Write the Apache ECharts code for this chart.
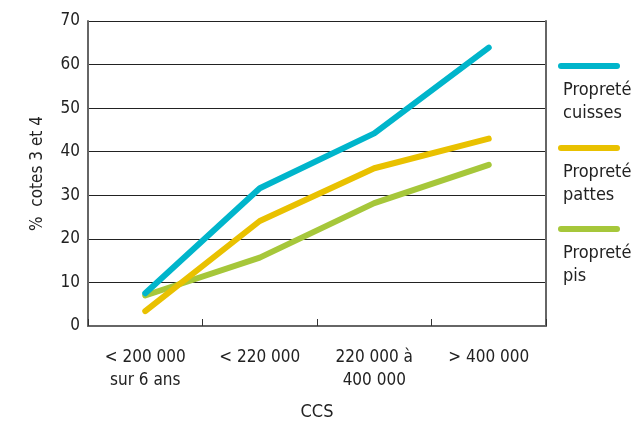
<!DOCTYPE html>
<html>
<head>
<meta charset="utf-8">
<script src="https://cdn.jsdelivr.net/npm/echarts@6/dist/echarts.min.js"></script>
<style>
  html, body { margin: 0; padding: 0; background: #fff; }
  #chart { width: 637px; height: 423px; }
</style>
</head>
<body>
<div id="chart"></div>
<script>
// CCS classes on the x axis
const categories = ['< 200 000\nsur 6 ans', '< 220 000', '220 000 à\n400 000', '> 400 000'];
// % of cows scored 3 or 4 for each cleanliness criterion
const cuisses = [7.5, 31.6, 44.2, 63.9];
const pattes = [3.4, 24.1, 36.2, 43.0];
const pis = [7.0, 15.7, 28.2, 37.0];
const seriesNames = ['Propreté cuisses', 'Propreté pattes', 'Propreté pis'];
const legendLabels = ['Propreté\ncuisses', 'Propreté\npattes', 'Propreté\npis'];
const colors = ['#00b5cb', '#e9c100', '#a6c73a'];
const yTicks = { min: 0, max: 70, interval: 10 };

const FONT = '"DejaVu Sans Condensed", "DejaVu Sans", sans-serif';
const chart = echarts.init(document.getElementById('chart'), null, { renderer: 'canvas' });

const values = [cuisses, pattes, pis];
// vertical centre of each legend swatch
const legendCentres = [66, 148, 229];
// swatch with fully rounded ends, 62 x 6
const pill = 'path://M3,0 L59,0 A3,3 0 0 1 59,6 L3,6 A3,3 0 0 1 3,0 Z';

const option = {
  animation: false,
  textStyle: { fontFamily: FONT, color: '#222' },
  grid: { left: 88, right: 91, top: 21, bottom: 97, outerBoundsMode: 'none', containLabel: false },
  xAxis: {
    type: 'category',
    data: categories,
    boundaryGap: true,
    name: 'CCS',
    nameLocation: 'middle',
    nameGap: 77,
    nameTextStyle: { fontFamily: FONT, fontSize: 18, color: '#222' },
    axisLine: { lineStyle: { color: '#666', width: 2 } },
    axisTick: { show: true, inside: true, length: 7, lineStyle: { color: '#333', width: 1 } },
    axisLabel: { fontFamily: FONT, fontSize: 17, color: '#222', margin: 20, lineHeight: 23 }
  },
  yAxis: [{
    type: 'value',
    min: yTicks.min,
    max: yTicks.max,
    interval: yTicks.interval,
    name: '%  cotes 3 et 4',
    nameLocation: 'middle',
    nameGap: 42,
    nameTextStyle: { fontFamily: FONT, fontSize: 17, color: '#222' },
    axisLine: { show: true, lineStyle: { color: '#666', width: 2 } },
    axisTick: { show: false },
    axisLabel: { fontFamily: FONT, fontSize: 17, color: '#222', margin: 8 },
    splitLine: { show: true, lineStyle: { color: '#222', width: 1 } }
  }, {
    type: 'value',
    position: 'right',
    min: yTicks.min,
    max: yTicks.max,
    interval: yTicks.interval,
    axisLine: { show: true, lineStyle: { color: '#666', width: 2 } },
    axisTick: { show: false },
    axisLabel: { show: false },
    splitLine: { show: false }
  }],
  legend: seriesNames.map((name, i) => ({
    data: [name],
    left: 558,
    top: legendCentres[i] - 3,
    padding: 0,
    icon: pill,
    itemWidth: 62,
    itemHeight: 6,
    selectedMode: false,
    formatter: () => '',
    textStyle: { fontSize: 1, lineHeight: 1 }
  })),
  graphic: legendLabels.map((txt, i) => ({
    type: 'text',
    left: 563,
    top: legendCentres[i] + 13,
    style: { text: txt, fontFamily: FONT, fontSize: 18, lineHeight: 23, fill: '#222' }
  })),
  series: values.map((v, i) => ({
    name: seriesNames[i],
    type: 'line',
    data: v,
    symbol: 'none',
    itemStyle: { color: colors[i] },
    lineStyle: { color: colors[i], width: 6, cap: 'round', join: 'round' },
    z: 3 - i
  }))
};
chart.setOption(option);
</script>
</body>
</html>
